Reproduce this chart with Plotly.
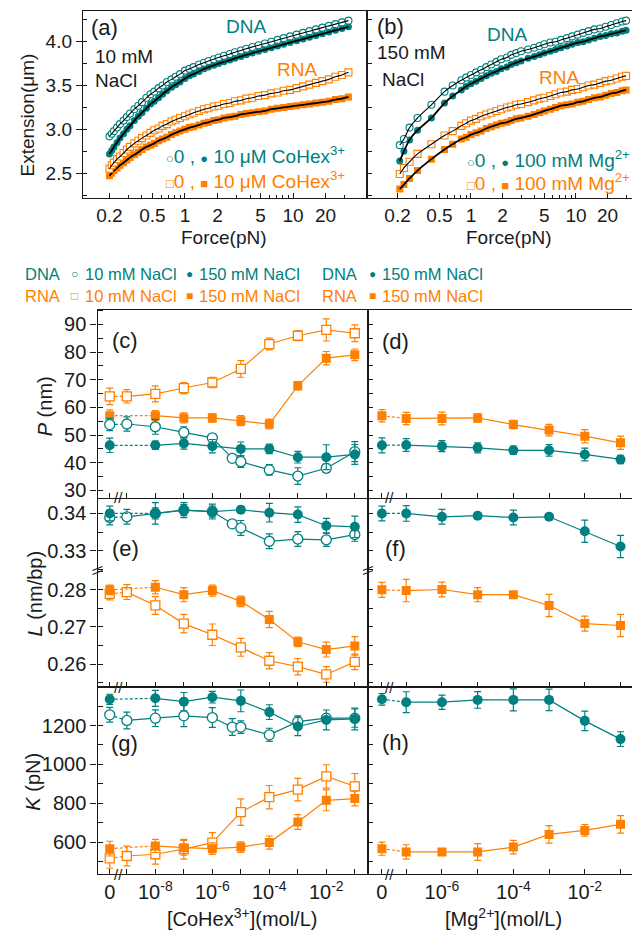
import math
import plotly.graph_objects as go

W, H = 640, 930
TEAL = "#008080"
ORANGE = "#FF8000"
FONT = "Liberation Sans, Arial, sans-serif"
INK = "#1a1a1a"

# ---------------- (a) force-extension, 10 mM NaCl ----------------
FORCE_A = [0.20, 0.21, 0.22, 0.235, 0.25, 0.27, 0.29, 0.31, 0.34, 0.37, 0.40, 0.44, 0.48, 0.52,
           0.57, 0.62, 0.68, 0.75, 0.82, 0.90, 1.0, 1.1, 1.2, 1.35, 1.5, 1.65, 1.85, 2.05, 2.3,
           2.6, 2.9, 3.3, 3.7, 4.2, 4.8, 5.5, 6.3, 7.2, 8.2, 9.4, 10.8, 12.4, 14.2, 16.3, 18.7,
           21.5, 24.7, 28.4, 32.6]
EXT_A_DNA_0 = [2.92, 2.95, 2.98, 3.02, 3.06, 3.10, 3.14, 3.18, 3.23, 3.27, 3.31, 3.36, 3.40, 3.43,
               3.47, 3.50, 3.54, 3.57, 3.60, 3.63, 3.67, 3.69, 3.71, 3.74, 3.76, 3.78, 3.80, 3.82,
               3.84, 3.86, 3.88, 3.90, 3.92, 3.94, 3.96, 3.98, 4.00, 4.02, 4.04, 4.06, 4.08, 4.10,
               4.12, 4.14, 4.16, 4.18, 4.20, 4.22, 4.24]
EXT_A_DNA_CO = [2.72, 2.76, 2.80, 2.85, 2.90, 2.95, 3.00, 3.04, 3.10, 3.15, 3.19, 3.24, 3.29, 3.32,
                3.36, 3.40, 3.44, 3.48, 3.51, 3.54, 3.58, 3.61, 3.63, 3.66, 3.69, 3.71, 3.73, 3.75,
                3.77, 3.79, 3.81, 3.83, 3.85, 3.87, 3.89, 3.91, 3.93, 3.95, 3.97, 3.99, 4.01, 4.03,
                4.05, 4.07, 4.09, 4.11, 4.13, 4.15, 4.17]
EXT_A_RNA_0 = [2.55, 2.59, 2.62, 2.66, 2.69, 2.73, 2.77, 2.80, 2.84, 2.87, 2.90, 2.93, 2.96, 2.99,
               3.01, 3.04, 3.06, 3.09, 3.11, 3.13, 3.15, 3.17, 3.19, 3.21, 3.23, 3.24, 3.26, 3.27,
               3.29, 3.30, 3.32, 3.33, 3.35, 3.36, 3.38, 3.39, 3.41, 3.42, 3.44, 3.45, 3.47, 3.49,
               3.51, 3.53, 3.55, 3.57, 3.60, 3.62, 3.65]
EXT_A_RNA_CO = [2.47, 2.50, 2.53, 2.56, 2.59, 2.62, 2.65, 2.68, 2.71, 2.74, 2.77, 2.80, 2.82, 2.84,
                2.87, 2.89, 2.91, 2.94, 2.96, 2.98, 3.00, 3.02, 3.03, 3.05, 3.07, 3.08, 3.10, 3.11,
                3.13, 3.14, 3.15, 3.17, 3.18, 3.19, 3.20, 3.21, 3.23, 3.24, 3.25, 3.26, 3.27, 3.28,
                3.29, 3.30, 3.31, 3.32, 3.34, 3.35, 3.37]

# ---------------- (b) force-extension, 150 mM NaCl ----------------
FORCE_B = [0.21, 0.23, 0.26, 0.31, 0.42, 0.56, 0.67, 0.81, 0.9, 1.0, 1.12, 1.25, 1.4, 1.56, 1.75,
           1.94, 2.2, 2.42, 2.7, 3.0, 3.5, 4.0, 4.5, 5.0, 5.7, 6.4, 7.2, 8.2, 9.2, 10.4, 11.7, 13.2,
           15.0, 17.0, 19.2, 21.7, 24.5, 27.5, 30.0]
EXT_B_DNA_0 = [2.82, 2.89, 3.02, 3.13, 3.28, 3.43, 3.50, 3.56, 3.59, 3.62, 3.65, 3.68, 3.71, 3.74,
               3.77, 3.80, 3.82, 3.85, 3.87, 3.89, 3.91, 3.93, 3.95, 3.97, 3.99, 4.00, 4.02, 4.04,
               4.06, 4.08, 4.10, 4.12, 4.14, 4.15, 4.17, 4.19, 4.21, 4.23, 4.24]
EXT_B_DNA_MG = [2.64, 2.75, 2.88, 2.99, 3.13, 3.30, 3.38, 3.45, 3.49, 3.52, 3.55, 3.58, 3.61, 3.64,
                3.66, 3.69, 3.71, 3.74, 3.76, 3.78, 3.81, 3.83, 3.85, 3.87, 3.89, 3.91, 3.93, 3.95,
                3.97, 3.99, 4.00, 4.02, 4.04, 4.06, 4.07, 4.09, 4.10, 4.12, 4.13]
EXT_B_RNA_0 = [2.49, 2.56, 2.63, 2.72, 2.83, 2.93, 2.98, 3.04, 3.07, 3.10, 3.12, 3.15, 3.17, 3.19,
               3.21, 3.23, 3.25, 3.26, 3.28, 3.29, 3.31, 3.33, 3.35, 3.36, 3.38, 3.40, 3.42, 3.43,
               3.45, 3.46, 3.48, 3.50, 3.51, 3.53, 3.55, 3.56, 3.58, 3.60, 3.61]
EXT_B_RNA_MG = [2.32, 2.37, 2.44, 2.53, 2.66, 2.77, 2.83, 2.89, 2.91, 2.94, 2.96, 2.98, 3.01, 3.03,
                3.05, 3.07, 3.08, 3.10, 3.12, 3.13, 3.15, 3.17, 3.19, 3.21, 3.23, 3.25, 3.27, 3.28,
                3.29, 3.31, 3.32, 3.34, 3.36, 3.37, 3.39, 3.41, 3.42, 3.44, 3.45]

# ---------------- concentrations (mol/L) ----------------
CO_DNA10 = [0, 1e-9, 1e-8, 1e-7, 1e-6, 5e-6, 1e-5, 1e-4, 1e-3, 1e-2, 1e-1]
CO_RNA10 = [0, 1e-9, 1e-8, 1e-7, 1e-6, 1e-5, 1e-4, 1e-3, 1e-2, 1e-1]
CO_150 = [0, 1e-8, 1e-7, 1e-6, 1e-5, 1e-4, 1e-3, 1e-2, 1e-1]
MG = [0, 1e-7, 1e-6, 1e-5, 1e-4, 1e-3, 1e-2, 1e-1]

# ---------------- (c) persistence length P (nm) ----------------
P_DNA10 = [53.8, 54.0, 53.0, 51.0, 49.0, 41.6, 40.4, 37.4, 35.2, 38.0, 44.0]
P_DNA10_ERR = [2.2, 2.6, 2.7, 2.0, 1.2, 1.0, 2.1, 1.9, 3.0, 1.5, 3.6]
P_RNA10 = [64.0, 64.0, 64.9, 67.0, 69.0, 73.9, 82.9, 85.9, 88.0, 86.8]
P_RNA10_ERR = [3.0, 2.4, 2.9, 2.0, 1.9, 3.0, 2.1, 1.8, 4.0, 3.0]
P_DNA150 = [46.3, 46.3, 47.0, 46.0, 45.0, 45.0, 42.0, 42.0, 43.0]
P_DNA150_ERR = [2.6, 1.5, 2.1, 2.4, 2.5, 1.7, 2.1, 4.5, 3.6]
P_RNA150 = [57.0, 57.0, 56.2, 56.2, 55.2, 54.0, 67.8, 77.8, 79.0]
P_RNA150_ERR = [2.1, 1.8, 1.8, 1.5, 1.8, 1.8, 1.5, 2.4, 2.1]
# (d)
P_MG_DNA = [46.3, 46.4, 46.0, 45.4, 44.5, 44.5, 43.0, 41.2]
P_MG_DNA_ERR = [2.7, 2.3, 2.0, 1.8, 1.5, 2.1, 2.3, 1.5]
P_MG_RNA = [57.0, 56.0, 56.0, 56.2, 53.8, 51.8, 49.6, 47.2]
P_MG_RNA_ERR = [2.2, 2.2, 2.3, 1.5, 1.5, 2.1, 2.4, 2.4]

# ---------------- (e) contour length per bp L (nm/bp) ----------------
L_DNA10 = [0.3389, 0.3391, 0.3400, 0.3409, 0.3405, 0.3372, 0.3361, 0.3325, 0.3331, 0.3329, 0.3343]
L_DNA10_ERR = [0.0020, 0.0020, 0.0015, 0.0015, 0.0015, 0.0008, 0.0020, 0.0020, 0.0020, 0.0018, 0.0018]
L_DNA150 = [0.3400, 0.3400, 0.3409, 0.3405, 0.3410, 0.3402, 0.3397, 0.3367, 0.3364]
L_DNA150_ERR = [0.0020, 0.0029, 0.0020, 0.0020, 0.0009, 0.0025, 0.0021, 0.0020, 0.0029]
L_RNA10 = [0.2789, 0.2794, 0.2758, 0.2709, 0.2679, 0.2645, 0.2609, 0.2593, 0.2572, 0.2606]
L_RNA10_ERR = [0.0016, 0.0020, 0.0024, 0.0025, 0.0029, 0.0024, 0.0022, 0.0022, 0.0021, 0.0021]
L_RNA150 = [0.2800, 0.2807, 0.2787, 0.2798, 0.2769, 0.2720, 0.2660, 0.2639, 0.2649]
L_RNA150_ERR = [0.0013, 0.0018, 0.0019, 0.0015, 0.0014, 0.0022, 0.0013, 0.0020, 0.0025]
# (f)
L_MG_DNA = [0.3400, 0.3400, 0.3391, 0.3394, 0.3389, 0.3391, 0.3352, 0.3311]
L_MG_DNA_ERR = [0.0020, 0.0021, 0.0020, 0.0008, 0.0020, 0.0008, 0.0030, 0.0030]
L_MG_RNA = [0.2800, 0.2798, 0.2801, 0.2787, 0.2787, 0.2758, 0.2709, 0.2704]
L_MG_RNA_ERR = [0.0020, 0.0030, 0.0020, 0.0019, 0.0008, 0.0030, 0.0020, 0.0030]

# ---------------- (g) stretch modulus K (pN) ----------------
K_DNA10 = [1255, 1226, 1238, 1250, 1241, 1192, 1192, 1152, 1220, 1238, 1238]
K_DNA10_ERR = [38, 43, 43, 56, 51, 43, 32, 34, 30, 20, 47]
K_DNA150 = [1335, 1340, 1323, 1346, 1327, 1269, 1195, 1229, 1234]
K_DNA150_ERR = [26, 41, 47, 30, 56, 38, 47, 51, 56]
K_RNA10 = [516, 528, 537, 563, 597, 754, 831, 870, 938, 887]
K_RNA10_ERR = [51, 51, 51, 51, 51, 68, 60, 58, 60, 66]
K_RNA150 = [566, 580, 571, 566, 574, 597, 703, 815, 824]
K_RNA150_ERR = [38, 34, 38, 30, 27, 34, 38, 54, 38]
# (h)
K_MG_DNA = [1335, 1320, 1320, 1332, 1332, 1332, 1224, 1130]
K_MG_DNA_ERR = [30, 54, 37, 43, 57, 55, 50, 38]
K_MG_RNA = [566, 549, 549, 549, 574, 639, 660, 691]
K_MG_RNA_ERR = [34, 37, 15, 43, 35, 45, 30, 45]

# tick labels
FORCE_TICKS = [0.2, 0.5, 1, 2, 5, 10, 20]
FORCE_MINOR = [0.3, 0.4, 0.6, 0.7, 0.8, 0.9, 3, 4, 6, 7, 8, 9, 30]
CO_LABELS = ["0", "10<sup>-8</sup>", "10<sup>-6</sup>", "10<sup>-4</sup>", "10<sup>-2</sup>"]
MG_LABELS = ["0", "10<sup>-6</sup>", "10<sup>-4</sup>", "10<sup>-2</sup>"]

# position used for the "0" concentration on the broken log axes
ZERO_CO = -9.6
ZERO_MG = -7.68


def lg(conc, zero):
    return [zero if c == 0 else math.log10(c) for c in conc]


def xd(x0, x1):
    return [x0 / W, x1 / W]


def yd(yt, yb):
    return [1 - yb / H, 1 - yt / H]


fig = go.Figure()


def fe_trace(force, ext, color, symbol, filled, n, lw):
    ax = "" if n == 1 else str(n)
    fig.add_trace(go.Scatter(
        x=force, y=ext, mode="markers", xaxis="x" + ax, yaxis="y" + ax,
        marker=dict(symbol=symbol, size=7, color=color if filled else "white",
                    line=dict(color=color, width=0 if filled else 1.1)),
        showlegend=False, hoverinfo="skip"))
    fig.add_trace(go.Scatter(
        x=force, y=ext, mode="lines", xaxis="x" + ax, yaxis="y" + ax,
        line=dict(color="black", width=lw, shape="spline", smoothing=1.0),
        showlegend=False, hoverinfo="skip"))


fe_trace(FORCE_A, EXT_A_DNA_CO, TEAL, "circle", True, 1, 1.8)
fe_trace(FORCE_A, EXT_A_DNA_0, TEAL, "circle", False, 1, 1.1)
fe_trace(FORCE_A, EXT_A_RNA_CO, ORANGE, "square", True, 1, 1.8)
fe_trace(FORCE_A, EXT_A_RNA_0, ORANGE, "square", False, 1, 1.1)
fe_trace(FORCE_B, EXT_B_DNA_MG, TEAL, "circle", True, 2, 1.8)
fe_trace(FORCE_B, EXT_B_DNA_0, TEAL, "circle", False, 2, 1.1)
fe_trace(FORCE_B, EXT_B_RNA_MG, ORANGE, "square", True, 2, 1.8)
fe_trace(FORCE_B, EXT_B_RNA_0, ORANGE, "square", False, 2, 1.1)


def series(conc, zero, vals, err, color, symbol, filled, n):
    xs = lg(conc, zero)
    xa, ya = "x" + str(n), "y" + str(n)
    fig.add_trace(go.Scatter(x=xs[:2], y=vals[:2], mode="lines", xaxis=xa, yaxis=ya,
                             line=dict(color=color, width=1.2, dash="3px,2px"),
                             showlegend=False, hoverinfo="skip"))
    fig.add_trace(go.Scatter(x=xs[1:], y=vals[1:], mode="lines", xaxis=xa, yaxis=ya,
                             line=dict(color=color, width=1.2),
                             showlegend=False, hoverinfo="skip"))
    size = 10 if symbol == "circle" else 9
    fig.add_trace(go.Scatter(
        x=xs, y=vals, mode="markers", xaxis=xa, yaxis=ya,
        error_y=dict(type="data", array=err, color=color, thickness=1.2, width=3.5),
        marker=dict(symbol=symbol, size=size, color=color if filled else "white",
                    line=dict(color=color, width=0 if filled else 1.3)),
        showlegend=False, hoverinfo="skip"))


# (c) n=3, (d) n=4
series(CO_RNA10, ZERO_CO, P_RNA10, P_RNA10_ERR, ORANGE, "square", False, 3)
series(CO_150, ZERO_CO, P_RNA150, P_RNA150_ERR, ORANGE, "square", True, 3)
series(CO_DNA10, ZERO_CO, P_DNA10, P_DNA10_ERR, TEAL, "circle", False, 3)
series(CO_150, ZERO_CO, P_DNA150, P_DNA150_ERR, TEAL, "circle", True, 3)
series(MG, ZERO_MG, P_MG_RNA, P_MG_RNA_ERR, ORANGE, "square", True, 4)
series(MG, ZERO_MG, P_MG_DNA, P_MG_DNA_ERR, TEAL, "circle", True, 4)
# (e) upper n=5, lower n=6 ; (f) upper n=7, lower n=8
series(CO_DNA10, ZERO_CO, L_DNA10, L_DNA10_ERR, TEAL, "circle", False, 5)
series(CO_150, ZERO_CO, L_DNA150, L_DNA150_ERR, TEAL, "circle", True, 5)
series(CO_RNA10, ZERO_CO, L_RNA10, L_RNA10_ERR, ORANGE, "square", False, 6)
series(CO_150, ZERO_CO, L_RNA150, L_RNA150_ERR, ORANGE, "square", True, 6)
series(MG, ZERO_MG, L_MG_DNA, L_MG_DNA_ERR, TEAL, "circle", True, 7)
series(MG, ZERO_MG, L_MG_RNA, L_MG_RNA_ERR, ORANGE, "square", True, 8)
# (g) n=9, (h) n=10
series(CO_DNA10, ZERO_CO, K_DNA10, K_DNA10_ERR, TEAL, "circle", False, 9)
series(CO_150, ZERO_CO, K_DNA150, K_DNA150_ERR, TEAL, "circle", True, 9)
series(CO_RNA10, ZERO_CO, K_RNA10, K_RNA10_ERR, ORANGE, "square", False, 9)
series(CO_150, ZERO_CO, K_RNA150, K_RNA150_ERR, ORANGE, "square", True, 9)
series(MG, ZERO_MG, K_MG_DNA, K_MG_DNA_ERR, TEAL, "circle", True, 10)
series(MG, ZERO_MG, K_MG_RNA, K_MG_RNA_ERR, ORANGE, "square", True, 10)

# ---------------- axes ----------------
BASE = dict(showline=True, linecolor=INK, linewidth=1.4, showgrid=False, zeroline=False,
            tickcolor=INK, tickwidth=1.2, tickfont=dict(family=FONT, size=20, color=INK))
lay = {}
LOGMINOR = dict(tickmode="array", tickvals=FORCE_MINOR, ticks="inside", ticklen=3, tickcolor=INK)
for n, dom, rng in [(1, xd(75, 359), [-0.944, 1.685]), (2, xd(359, 632), [-0.99, 1.61])]:
    key = "xaxis" if n == 1 else "xaxis2"
    lay[key] = dict(BASE, domain=dom, type="log", range=rng, anchor="y" if n == 1 else "y2",
                    mirror=True, tickmode="array", tickvals=FORCE_TICKS,
                    ticktext=[("%g" % v) for v in FORCE_TICKS], ticks="inside", ticklen=5,
                    minor=LOGMINOR)
    lay[key]["tickfont"] = dict(family=FONT, size=19, color=INK)
lay["yaxis"] = dict(BASE, domain=yd(3, 191), range=[2.215, 4.35], anchor="x", mirror=True,
                    dtick=0.5, tick0=0, tickformat=".1f", ticks="outside", ticklen=6,
                    minor=dict(dtick=0.25, tick0=0, ticks="inside", ticklen=4, tickcolor=INK))
lay["yaxis"]["tickfont"] = dict(family=FONT, size=19, color=INK)
lay["yaxis2"] = dict(BASE, domain=yd(3, 191), range=[2.215, 4.35], anchor="x2", mirror=True,
                     dtick=0.25, tick0=0, ticks="inside", ticklen=5, showticklabels=False)

LEFT_X = xd(89.5, 360)
RIGHT_X = xd(360, 629.5)
RNG_CO = [-10.03, -0.537]
RNG_MG = [-8.07, -0.524]
TV_CO = [ZERO_CO, -8, -6, -4, -2]
MINOR_CO = [-9, -7, -5, -3, -1]
TV_MG = [ZERO_MG, -6, -4, -2]
MINOR_MG = [-7, -5, -3, -1]


def xax(n, dom, rng, tv, tt, mv, labels, mirror=True, hidden=False):
    d = dict(BASE, domain=dom, range=rng, anchor="y" + str(n), mirror=mirror)
    if hidden:
        d.update(showline=False, ticks="", showticklabels=False)
        return d
    d.update(tickmode="array", tickvals=tv, ticks="inside", ticklen=5, showticklabels=labels,
             minor=dict(tickmode="array", tickvals=mv, ticks="inside", ticklen=5,
                        tickcolor=INK, tickwidth=1.2))
    if labels:
        d["ticktext"] = tt
    d["tickfont"] = dict(family=FONT, size=20, color=INK)
    return d


def yax_left(n, dom, rng, dtick, minor, fmt):
    return dict(BASE, domain=dom, range=rng, anchor="x" + str(n), mirror=True, dtick=dtick,
                tick0=0, tickformat=fmt, ticks="outside", ticklen=6,
                minor=dict(dtick=minor, tick0=0, ticks="inside", ticklen=5, tickcolor=INK))


def yax_right(n, dom, rng, dtick):
    return dict(BASE, domain=dom, range=rng, anchor="x" + str(n), mirror=True, dtick=dtick,
                tick0=0, ticks="inside", ticklen=5, showticklabels=False)


C_Y = yd(303.3, 492)
EU_Y = yd(492, 565)
EL_Y = yd(565, 682)
G_Y = yd(682, 870)
RNG_P = [27.3, 95.2]
RNG_LU = [0.3246, 0.3442]
RNG_LL = [0.2538, 0.2852]
RNG_K = [434, 1398]

lay["xaxis3"] = xax(3, LEFT_X, RNG_CO, TV_CO, CO_LABELS, MINOR_CO, False)
lay["yaxis3"] = yax_left(3, C_Y, RNG_P, 10, 5, "d")
lay["xaxis4"] = xax(4, RIGHT_X, RNG_MG, TV_MG, MG_LABELS, MINOR_MG, False)
lay["yaxis4"] = yax_right(4, C_Y, RNG_P, 5)
lay["xaxis5"] = xax(5, LEFT_X, RNG_CO, TV_CO, CO_LABELS, MINOR_CO, False, mirror=False, hidden=True)
lay["yaxis5"] = yax_left(5, EU_Y, RNG_LU, 0.01, 0.005, ".2f")
lay["xaxis6"] = xax(6, LEFT_X, RNG_CO, TV_CO, CO_LABELS, MINOR_CO, False, mirror=False)
lay["yaxis6"] = yax_left(6, EL_Y, RNG_LL, 0.01, 0.005, ".2f")
lay["xaxis7"] = xax(7, RIGHT_X, RNG_MG, TV_MG, MG_LABELS, MINOR_MG, False, mirror=False, hidden=True)
lay["yaxis7"] = yax_right(7, EU_Y, RNG_LU, 0.005)
lay["xaxis8"] = xax(8, RIGHT_X, RNG_MG, TV_MG, MG_LABELS, MINOR_MG, False, mirror=False)
lay["yaxis8"] = yax_right(8, EL_Y, RNG_LL, 0.005)
lay["xaxis9"] = xax(9, LEFT_X, RNG_CO, TV_CO, CO_LABELS, MINOR_CO, True)
lay["yaxis9"] = yax_left(9, G_Y, RNG_K, 200, 100, "d")
lay["xaxis10"] = xax(10, RIGHT_X, RNG_MG, TV_MG, MG_LABELS, MINOR_MG, True)
lay["yaxis10"] = yax_right(10, G_Y, RNG_K, 100)

# ---------------- text ----------------
ann = []


def txt(x, y, s, size=20, color=INK, xanchor="center", angle=0):
    ann.append(dict(x=x / W, y=1 - y / H, xref="paper", yref="paper", text=s, showarrow=False,
                    xanchor=xanchor, yanchor="middle", textangle=angle,
                    font=dict(family=FONT, size=size, color=color)))


# axis titles
txt(20, 108, "Extension(μm)", 19, angle=-90)
txt(216, 230, "Force(pN)", 19)
txt(501, 230, "Force(pN)", 19)
txt(37, 400, "<i>P</i> (nm)", 20, angle=-90)
txt(27, 588, "<i>L</i> (nm/bp)", 20, angle=-90)
txt(25, 777, "<i>K</i> (pN)", 20, angle=-90)
txt(234, 913, "[CoHex<sup>3+</sup>](mol/L)", 20)
txt(495, 913, "[Mg<sup>2+</sup>](mol/L)", 20)

# panel labels
for lab, x, y in [("(a)", 96, 20), ("(b)", 382, 19), ("(c)", 117, 334), ("(d)", 387, 335),
                  ("(e)", 117, 543), ("(f)", 387, 543), ("(g)", 116, 739), ("(h)", 387, 738)]:
    txt(x, y, lab, 22)

# panel (a)/(b) annotations
txt(85, 49, "10 mM", 19, xanchor="left")
txt(85, 73, "NaCl", 19, xanchor="left")
txt(238, 19, "DNA", 19, TEAL)
txt(289, 62, "RNA", 19, ORANGE)
txt(367, 45, "150 mM", 19, xanchor="left")
txt(372, 72, "NaCl", 19, xanchor="left")
txt(499, 27, "DNA", 19, TEAL)
txt(551, 70, "RNA", 19, ORANGE)

SM = '<span style="font-size:13px">%s</span>'
txt(156, 148, (SM % "○") + "0 , " + (SM % "●") + " 10 μM CoHex<sup>3+</sup>", 19, TEAL, "left")
txt(156, 173, (SM % "□") + "0 , " + (SM % "■") + " 10 μM CoHex<sup>3+</sup>", 19, ORANGE, "left")
txt(457, 152, (SM % "○") + "0 , " + (SM % "●") + " 100 mM Mg<sup>2+</sup>", 19, TEAL, "left")
txt(457, 175, (SM % "□") + "0 , " + (SM % "■") + " 100 mM Mg<sup>2+</sup>", 19, ORANGE, "left")

# legend of lower panels
LS = 16.5
for (y, name, col, o, f) in [(267, "DNA", TEAL, "○", "●"), (289, "RNA", ORANGE, "□", "■")]:
    txt(15, y, name, LS, col, "left")
    txt(66, y, o, 12, col)
    txt(75, y, "10 mM NaCl", LS, col, "left")
    txt(181, y, f, 12, col)
    txt(189, y, "150 mM NaCl", LS, col, "left")
    txt(312, y, name, LS, col, "left")
    txt(364, y, f, 12, col)
    txt(372, y, "150 mM NaCl", LS, col, "left")

# axis-break marks on the concentration axes
for n, xpos, ybot in [(3, -9.31, 492), (6, -9.31, 682), (9, -9.31, 870),
                      (4, -7.46, 492), (8, -7.46, 682), (10, -7.46, 870)]:
    ann.append(dict(x=xpos, y=1 - ybot / H, xref="x" + str(n), yref="paper", text="//",
                    showarrow=False, xanchor="center", yanchor="middle",
                    font=dict(family=FONT, size=15, color=INK)))

shapes = []
for xb in [89.5, 360, 629.5]:
    for dy in [-2, 2]:
        shapes.append(dict(type="line", xref="paper", yref="paper",
                           x0=(xb - 5) / W, x1=(xb + 5) / W,
                           y0=1 - (565 + dy + 2) / H, y1=1 - (565 + dy - 2) / H,
                           line=dict(color=INK, width=1.1)))

fig.update_layout(width=W, height=H, margin=dict(l=0, r=0, t=0, b=0),
                  paper_bgcolor="white", plot_bgcolor="white", showlegend=False,
                  font=dict(family=FONT, color=INK), annotations=ann, shapes=shapes, **lay)

fig.write_html("out.html")
